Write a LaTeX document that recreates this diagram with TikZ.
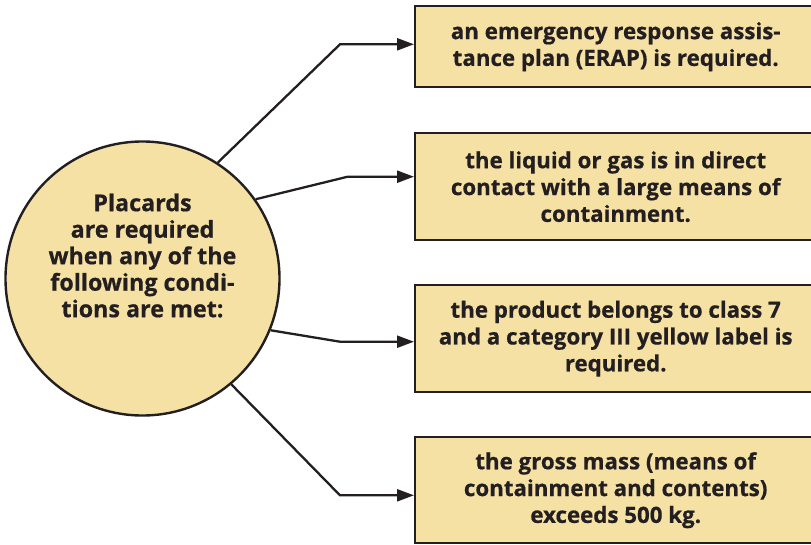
\documentclass[tikz,border=0pt]{standalone}
\usepackage{fontspec}
\setmainfont{Open Sans}[BoldFeatures={FakeBold=0.6}]
\usetikzlibrary{arrows.meta}
\definecolor{fillc}{HTML}{F6E1A5}
\definecolor{ink}{HTML}{231F20}
\begin{document}
\begin{tikzpicture}[x=1pt,y=-1pt,
  box/.style={draw=ink, line width=2.4pt, fill=fillc, rectangle, anchor=north west, inner sep=0pt,
    minimum width=401pt, text=ink, font=\bfseries\fontsize{22.3}{26.8}\selectfont, align=center},
  txt/.style={text=ink, font=\bfseries\fontsize{23.3}{26.5}\selectfont, align=center},
  conn/.style={draw=ink, line width=2.3pt, -{Triangle[length=17pt,width=12pt]}}]
\useasboundingbox (0,0) rectangle (811,544);
\clip (0,0) rectangle (811,544);
\node[draw=ink, line width=2.4pt, fill=fillc, circle, minimum size=274pt, inner sep=0pt] (c) at (142.5,278.5) {};
\node[txt] (ct) at ([yshift=23pt]c.center) {Placards\\are required\\when any of the\\following condi-\\tions are met:};
\node[box, minimum height=81pt] (b1) at (414,5) {an emergency response assis-\\tance plan (ERAP) is required.};
\node[box, minimum height=107pt] (b2) at (414,132) {the liquid or gas is in direct\\contact with a large means of\\containment.};
\node[box, minimum height=107pt] (b3) at (414,284) {the product belongs to class 7\\and a category III yellow label is\\required.};
\node[box, minimum height=106pt] (b4) at (414,436) {the gross mass (means of\\containment and contents)\\exceeds 500 kg.};
\coordinate (k1) at (340,44.3);
\coordinate (k2) at (347.7,176.7);
\coordinate (k3) at (340,341.7);
\coordinate (k4) at (340,495.3);
\draw[conn] (c.57.8) -- (k1) -- (k1 -| b1.west);
\draw[conn] (c.35.3) -- (k2) -- (k2 -| b2.west);
\draw[conn] (c.-22.4) -- (k3) -- (k3 -| b3.west);
\draw[conn] (c.-50.6) -- (k4) -- (k4 -| b4.west);
\end{tikzpicture}
\end{document}
